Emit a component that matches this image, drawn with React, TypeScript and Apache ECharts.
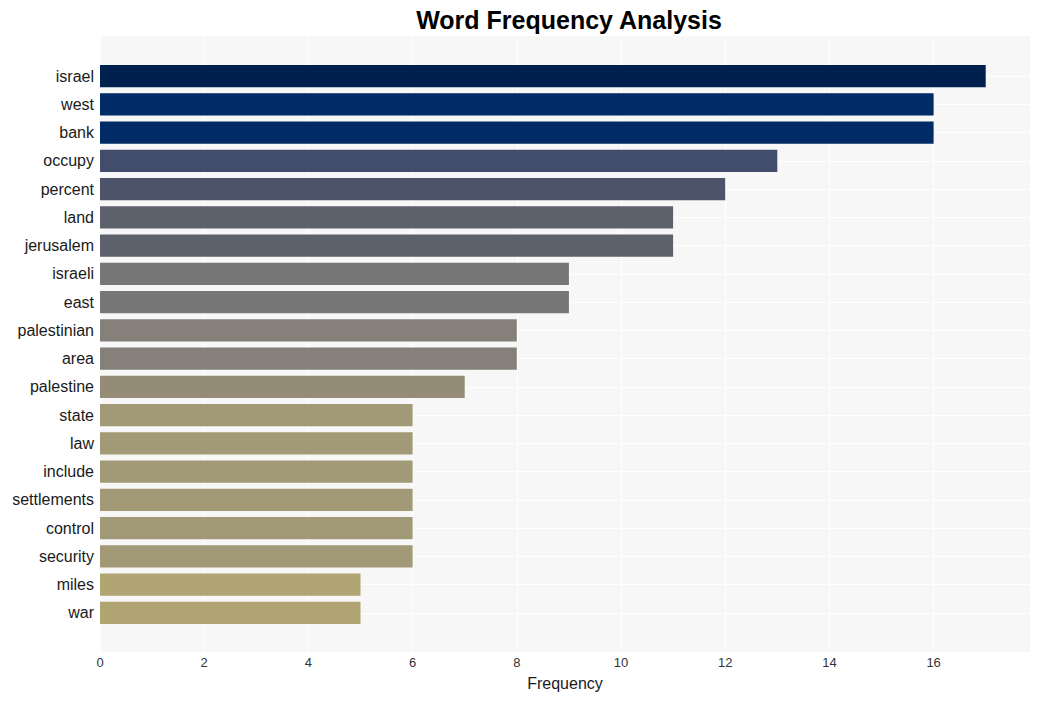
import React, { useEffect, useRef } from "react";
import * as echarts from "echarts";

const categories = [
  "israel", "west", "bank", "occupy", "percent", "land", "jerusalem", "israeli", "east",
  "palestinian", "area", "palestine", "state", "law", "include", "settlements", "control",
  "security", "miles", "war",
];
const frequencies = [17, 16, 16, 13, 12, 11, 11, 9, 9, 8, 8, 7, 6, 6, 6, 6, 6, 6, 5, 5];
const barColors = [
  "#00204d", "#002b66", "#002b66", "#414d6b", "#4d5369", "#5d616b", "#5d616b", "#777777",
  "#777777", "#858079", "#858079", "#958c78", "#a29977", "#a29977", "#a29977", "#a29977",
  "#a29977", "#a29977", "#b0a472", "#b0a472",
];
const xTicks = [0, 2, 4, 6, 8, 10, 12, 14, 16];

const FONT = "Liberation Sans, Arial, sans-serif";
const X_MAX = 17.85;

export default function App() {
  const ref = useRef<HTMLDivElement>(null);
  useEffect(() => {
    if (!ref.current) return;
    const chart = echarts.init(ref.current, null, { renderer: "svg" });
    chart.setOption({
      animation: false,
      backgroundColor: "#ffffff",
      title: {
        text: "Word Frequency Analysis",
        left: 564,
        textAlign: "center",
        top: 2,
        textStyle: { fontFamily: FONT, fontSize: 25, fontWeight: "bold", color: "#000000" },
      },
      grid: [
        {
          left: 100, right: 9, top: 36, bottom: 49,
          show: true, backgroundColor: "#f7f7f7", borderWidth: 0,
        },
        { left: 100, right: 9, top: 62, height: 565 },
      ],
      xAxis: [
        {
          type: "value", gridIndex: 0, min: 0, max: X_MAX, interval: 2,
          axisLine: { show: false }, axisTick: { show: false },
          axisLabel: {
            color: "#333333", fontFamily: FONT, fontSize: 13, margin: 4,
            showMaxLabel: false,
            formatter: (v: number) => (xTicks.includes(v) ? String(v) : ""),
          },
          splitLine: { show: true, lineStyle: { color: "#ffffff", width: 1 } },
          name: "Frequency", nameLocation: "middle", nameGap: 23,
          nameTextStyle: { color: "#1a1a1a", fontFamily: FONT, fontSize: 16 },
        },
        {
          type: "value", gridIndex: 1, min: 0, max: X_MAX, show: false,
        },
      ],
      yAxis: [
        { type: "value", gridIndex: 0, min: 0, max: 1, show: false },
        {
          type: "category", gridIndex: 1, data: categories, inverse: true,
          axisLine: { show: false }, axisTick: { show: false },
          axisLabel: { color: "#1a1a1a", fontFamily: FONT, fontSize: 16, margin: 6 },
          splitLine: { show: false },
        },
      ],
      series: [
        {
          type: "line", xAxisIndex: 1, yAxisIndex: 1, data: [], z: 1, silent: true,
          markLine: {
            z: 1,
            silent: true, symbol: "none", label: { show: false },
            lineStyle: { color: "#ffffff", width: 1, type: "solid" },
            data: categories.map((c) => ({ yAxis: c })),
          },
        },
        {
          type: "bar", xAxisIndex: 1, yAxisIndex: 1, z: 10,
          barCategoryGap: "22%",
          data: frequencies.map((v, i) => ({ value: v, itemStyle: { color: barColors[i] } })),
        },
      ],
    });
    return () => chart.dispose();
  }, []);
  return (
    <div
      ref={ref}
      style={{ position: "fixed", left: 0, top: 0, width: 1039, height: 701 }}
    />
  );
}
